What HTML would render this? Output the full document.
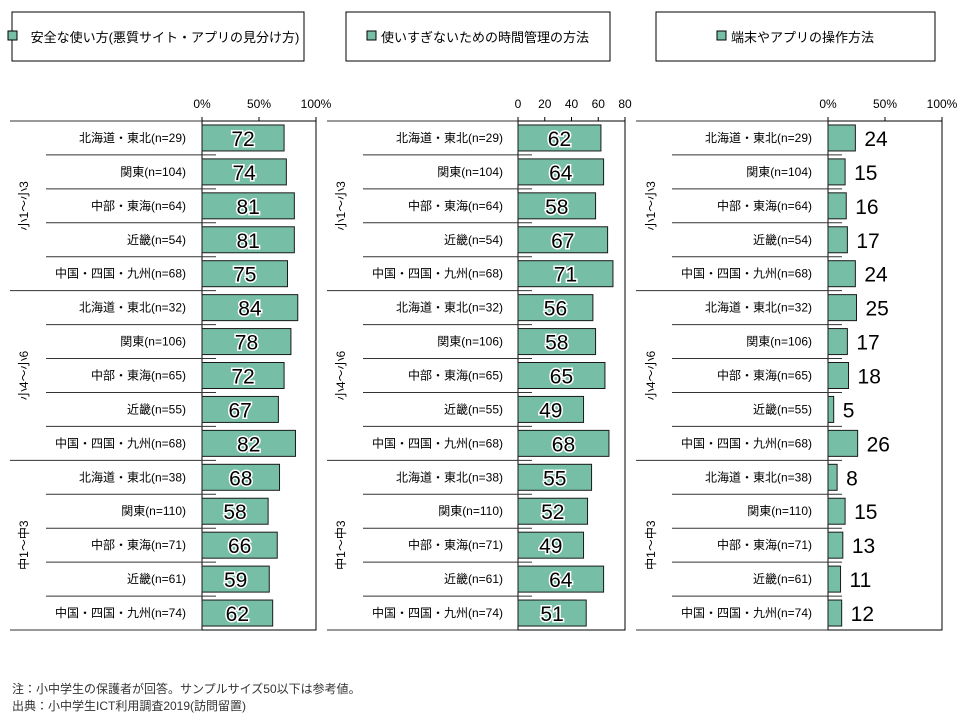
<!DOCTYPE html>
<html><head><meta charset="utf-8"><style>
body{margin:0;background:#fff;}
svg{display:block;font-family:"Liberation Sans","Noto Sans CJK JP",sans-serif;}
</style></head><body>
<svg id="c" width="960" height="720" viewBox="0 0 960 720"></svg>
<script>
const categories=["北海道・東北(n=29)","関東(n=104)","中部・東海(n=64)","近畿(n=54)","中国・四国・九州(n=68)","北海道・東北(n=32)","関東(n=106)","中部・東海(n=65)","近畿(n=55)","中国・四国・九州(n=68)","北海道・東北(n=38)","関東(n=110)","中部・東海(n=71)","近畿(n=61)","中国・四国・九州(n=74)"];
const groups=["小1～小3","小4～小6","中1～中3"];
const seriesSafe=[72,74,81,81,75,84,78,72,67,82,68,58,66,59,62];
const seriesTime=[62,64,58,67,71,56,58,65,49,68,55,52,49,64,51];
const seriesOp=[24,15,16,17,24,25,17,18,5,26,8,15,13,11,12];
const legendNames=["安全な使い方(悪質サイト・アプリの見分け方)","使いすぎないための時間管理の方法","端末やアプリの操作方法"];
const ticks1=["0%","50%","100%"],tickVals1=[0,50,100];
const ticks2=["0","20","40","60","80"],tickVals2=[0,20,40,60,80];
const ticks3=["0%","50%","100%"],tickVals3=[0,50,100];

const svg=document.getElementById('c');
const NS="http://www.w3.org/2000/svg";
function mk(tag,attrs,parent,text){const e=document.createElementNS(NS,tag);for(const k in attrs)e.setAttribute(k,attrs[k]);if(text!==undefined)e.textContent=text;(parent||svg).appendChild(e);return e;}

const TOP=121,BOT=630,RH=(BOT-TOP)/15;
const panels=[
 {data:seriesSafe,x0:202,x1:316,max:100,ticks:ticks1,tv:tickVals1,outer:10,inner:46,gx:24,lx:186,inside:true,legend:[12,304],name:"safe"},
 {data:seriesTime,x0:518,x1:625,max:80,ticks:ticks2,tv:tickVals2,outer:327,inner:363,gx:341,lx:503,inside:true,legend:[346,610],name:"time"},
 {data:seriesOp,x0:828,x1:942,max:100,ticks:ticks3,tv:tickVals3,outer:636,inner:672,gx:651,lx:812,inside:false,legend:[656,935],name:"operation"}
];
panels.forEach((p,pi)=>{
  const g=mk('g',{});
  
  
  const xs=v=>p.x0+(p.x1-p.x0)*v/p.max;
  // legend
  const lg=mk('g',{},g);
  
  
  mk('rect',{x:p.legend[0],y:12,width:p.legend[1]-p.legend[0],height:49,fill:'#fff',stroke:'#000','stroke-width':1},lg);
  const t=mk('text',{x:(p.legend[0]+p.legend[1])/2+7,y:42,'font-size':13,'text-anchor':'middle',fill:'#000'},lg,legendNames[pi]);
  const tw=legendNames[pi].length*13;
  mk('rect',{x:(p.legend[0]+p.legend[1])/2+7-tw/2-14,y:31,width:9,height:9,fill:'#76bea6',stroke:'#000','stroke-width':1},lg);
  // plot frame
  mk('rect',{x:p.x0,y:TOP,width:p.x1-p.x0,height:BOT-TOP,fill:'none',stroke:'#000','stroke-width':1},g);
  // ticks
  p.tv.forEach((v,i)=>{
    const x=xs(v);
    mk('line',{x1:x,x2:x,y1:TOP,y2:TOP-4,stroke:'#000'},g);
    const tt=mk('text',{x:x,y:108,'font-size':12,'text-anchor':'middle',fill:'#000'},g,p.ticks[i]);
    
    
  });
  // category lines
  for(let i=0;i<=15;i++){
    const y=TOP+i*RH;
    const outer=(i%5===0);
    mk('line',{x1:outer?p.outer:p.inner,x2:(i===0||i===15)?p.x0:p.x0+14,y1:y,y2:y,stroke:'#333','stroke-width':1},g);
  }
  groups.forEach((gn,gi)=>{
    const cy=TOP+(gi*5+2.5)*RH;
    const gt=mk('text',{x:p.gx,y:cy,'font-size':12,'text-anchor':'middle','dominant-baseline':'central',transform:`rotate(-90 ${p.gx} ${cy})`,fill:'#000'},g,gn);
    
    
  });
  p.data.forEach((v,i)=>{
    const cy=TOP+(i+0.5)*RH;
    const lt=mk('text',{x:p.lx,y:cy+4,'font-size':12,'text-anchor':'end',fill:'#000'},g,categories[i]);
    
    
    const b=mk('rect',{x:p.x0,y:cy-13,width:xs(v)-p.x0,height:26,fill:'#76bea6',stroke:'#1a1a1a','stroke-width':1},g);
    
    
    let vt;
    if(p.inside){
      vt=mk('text',{x:(p.x0+xs(v))/2,y:cy+8,'font-size':21,'text-anchor':'middle',fill:'#000',stroke:'#fff','stroke-width':3,'paint-order':'stroke'},g,String(v));
    }else{
      vt=mk('text',{x:xs(v)+9,y:cy+8,'font-size':21,'text-anchor':'start',fill:'#000'},g,String(v));
    }
    
    
  });
});
const n1=mk('text',{x:12,y:693,'font-size':12,fill:'#333'},svg,"注：小中学生の保護者が回答。サンプルサイズ50以下は参考値。");


const n2=mk('text',{x:12,y:710,'font-size':12,fill:'#333'},svg,"出典：小中学生ICT利用調査2019(訪問留置)");


</script>
</body></html>
